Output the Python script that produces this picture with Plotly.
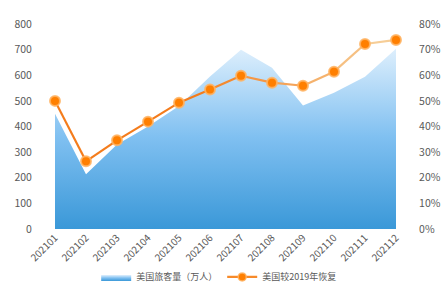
import plotly.graph_objects as go

months = ["202101", "202102", "202103", "202104", "202105", "202106",
          "202107", "202108", "202109", "202110", "202111", "202112"]
passengers = [450, 214, 330, 400, 480, 595, 700, 629, 482, 532, 594, 703]
recovery = [0.500, 0.264, 0.346, 0.419, 0.493, 0.544, 0.598, 0.571, 0.559, 0.614, 0.722, 0.738]

left_ticks = [0, 100, 200, 300, 400, 500, 600, 700, 800]
right_ticks = [0, 0.1, 0.2, 0.3, 0.4, 0.5, 0.6, 0.7, 0.8]

FONT = "Noto Sans CJK SC"
GRAY = "#595959"

fig = go.Figure()

fig.add_trace(go.Scatter(
    x=months, y=passengers, name="美国旅客量（万人）",
    mode="lines", line=dict(width=0, color="#7fbff0"),
    fill="tozeroy",
    fillgradient=dict(type="vertical", start=0, stop=720,
                      colorscale=[[0, "#3a98d8"], [0.5, "#80c0f1"], [1, "#e2f1fd"]]),
    showlegend=True,
))

def mix(c1, c2, t):
    return "rgb(%d,%d,%d)" % tuple(round(a + (b - a) * t) for a, b in zip(c1, c2))

c_start = (244, 124, 28)
c_end = (246, 205, 150)
n = len(months)
for i in range(n - 1):
    t = max(0.0, (i - 4) / (n - 6))
    t = min(t, 1.0)
    fig.add_trace(go.Scatter(
        x=months[i:i + 2], y=recovery[i:i + 2], yaxis="y2",
        mode="lines", line=dict(width=2.2, color=mix(c_start, c_end, t)),
        showlegend=False, hoverinfo="skip", cliponaxis=False,
    ))

fig.add_trace(go.Scatter(
    x=months, y=recovery, yaxis="y2", mode="markers", cliponaxis=False,
    marker=dict(size=10, color="#ff7f00", line=dict(width=2, color="rgba(255,180,100,0.85)")),
    showlegend=False,
))
fig.add_trace(go.Scatter(
    x=[None], y=[None], yaxis="y2", mode="lines+markers", name="美国较2019年恢复",
    line=dict(width=2.2, color="#f78a2a"),
    marker=dict(size=8, color="#ff7f00", line=dict(width=1.5, color="rgba(255,180,100,0.85)")),
))

fig.update_layout(
    width=441, height=292,
    margin=dict(l=55, r=45, t=24, b=63, autoexpand=False),
    paper_bgcolor="white", plot_bgcolor="white",
    font=dict(family=FONT, size=10, color=GRAY),
    xaxis=dict(type="category", range=[0, 11], showgrid=False, zeroline=False, automargin=False,
               showline=False, tickangle=-45, ticks="", tickfont=dict(size=10, color=GRAY)),
    yaxis=dict(range=[0, 800], tickvals=left_ticks, showgrid=False, zeroline=False, automargin=False,
               showline=False, ticks="outside", ticklen=20, tickcolor="rgba(0,0,0,0)",
               tickfont=dict(size=10.5, color=GRAY)),
    yaxis2=dict(range=[0, 0.8], tickvals=right_ticks, tickformat=".0%", overlaying="y",
                side="right", showgrid=False, zeroline=False, showline=False, automargin=False,
                ticks="outside", ticklen=20, tickcolor="rgba(0,0,0,0)",
                tickfont=dict(size=10.5, color=GRAY)),
    legend=dict(orientation="h", x=0.48, xanchor="center", y=-0.234, yanchor="middle",
                font=dict(size=9, color=GRAY), itemwidth=30, tracegroupgap=0),
    showlegend=True,
)

fig.write_html("out.html")
